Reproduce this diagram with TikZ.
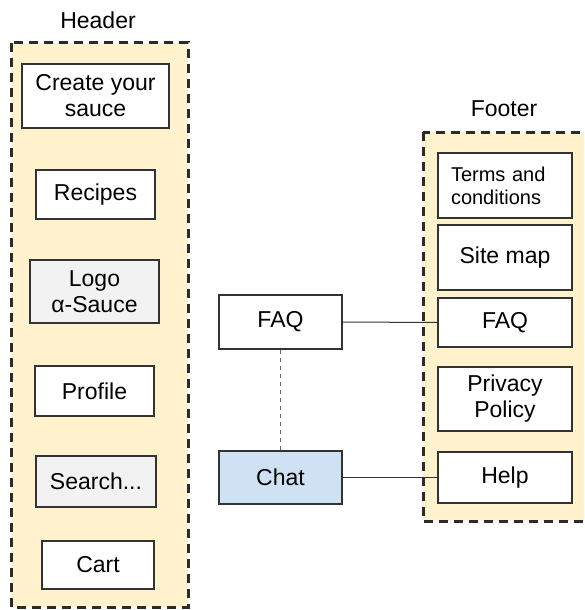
\documentclass[tikz,border=0pt]{standalone}
\usepackage{fontspec}
\setmainfont{Liberation Sans}
\definecolor{contfill}{HTML}{FFF2CC}
\definecolor{contline}{HTML}{2B2B2B}
\definecolor{boxline}{HTML}{333333}
\definecolor{grayfill}{HTML}{F2F2F2}
\definecolor{bluefill}{HTML}{CFE2F3}
\definecolor{linkline}{HTML}{333333}
\definecolor{dashlink}{HTML}{666666}
\begin{document}
\begin{tikzpicture}[x=1pt,y=-1pt,
  container/.style={draw=contline,fill=contfill,line width=3pt,dash pattern=on 9pt off 6pt},
  itembox/.style={draw=boxline,fill=white,line width=1.3pt,inner sep=0pt,align=center,
    font=\fontsize{23}{26}\selectfont},
  graybox/.style={itembox,fill=grayfill},
  bluebox/.style={itembox,fill=bluefill},
  smalltext/.style={font=\fontsize{20}{23}\selectfont},
  title/.style={font=\fontsize{23}{26}\selectfont,inner sep=0pt},
  link/.style={draw=linkline,line width=1pt},
  dottedlink/.style={draw=dashlink,line width=1.5pt,dash pattern=on 4pt off 4pt}]
\useasboundingbox (0,0) rectangle (584,610);
\clip (0,0) rectangle (584,610);
% containers
\path[container] (11,43) rectangle (188,607);
\path[container] (423,132) rectangle (600,521);
\node[title] (headerlbl) at (98,20) {Header};
\node[title] (footerlbl) at (504,109) {Footer};
% header items
\node[itembox,minimum width=147pt,minimum height=64pt] (create) at (95.5,96) {Create your\\sauce};
\node[itembox,minimum width=119pt,minimum height=49pt] (recipes) at (95.5,194.5) {Recipes};
\node[graybox,minimum width=129pt,minimum height=63pt] (logo) at (94.5,291.5) {Logo\\α-Sauce};
\node[itembox,minimum width=119pt,minimum height=50pt] (profile) at (94.5,391) {Profile};
\node[graybox,minimum width=120pt,minimum height=51pt] (search) at (96,481.5) {Search...};
\node[itembox,minimum width=112pt,minimum height=48pt] (cart) at (98,565) {Cart};
% footer items
\node[itembox,smalltext,minimum width=134pt,minimum height=65pt,text width=108pt,align=left] (terms) at (505,185.5) {Terms and\\conditions};
\node[itembox,minimum width=134pt,minimum height=65pt] (sitemap) at (505,257.5) {Site map};
\node[itembox,minimum width=134pt,minimum height=49pt] (ffaq) at (505,322.5) {FAQ};
\node[itembox,minimum width=134pt,minimum height=64pt] (privacy) at (505,399) {Privacy\\Policy};
\node[itembox,minimum width=134pt,minimum height=51pt] (help) at (505,477.5) {Help};
% middle items
\node[itembox,minimum width=123pt,minimum height=54pt] (mfaq) at (280.5,322) {FAQ};
\node[bluebox,minimum width=123pt,minimum height=53pt] (chat) at (280.5,477.5) {Chat};
% connectors
\draw[link] (mfaq.east) -- (ffaq.west);
\draw[link] (chat.east) -- (help.west);
\draw[dottedlink] (mfaq.south) -- (chat.north);
\end{tikzpicture}
\end{document}
